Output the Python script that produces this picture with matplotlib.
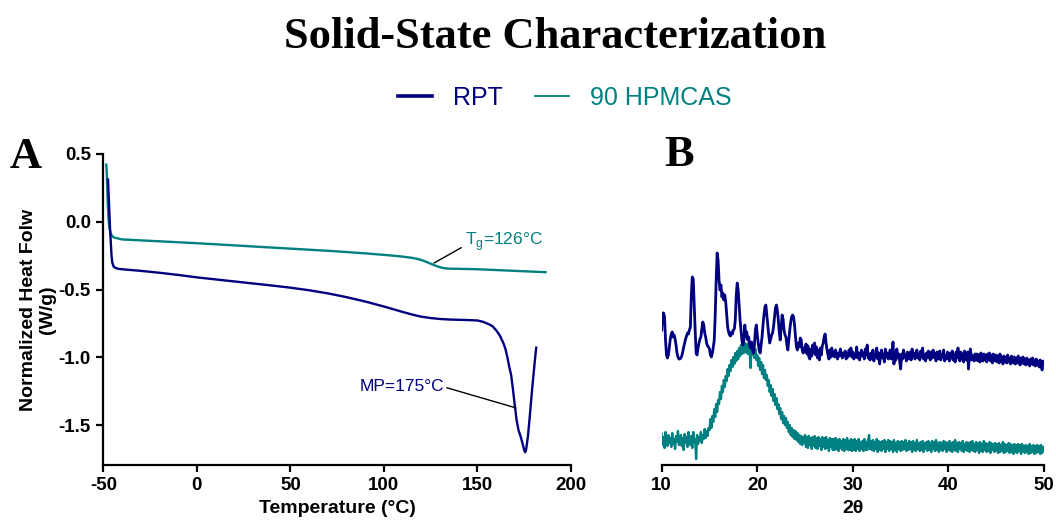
import numpy as np
import matplotlib
matplotlib.use("Agg")
import matplotlib.pyplot as plt
from matplotlib.lines import Line2D

plt.rcParams['font.family'] = ['Liberation Sans', 'DejaVu Sans']
plt.rcParams['mathtext.fontset'] = 'custom'
plt.rcParams['mathtext.rm'] = 'Liberation Sans'

NAVY = '#000080'
TEAL = '#008080'

# ---------------- DSC data (panel A) ----------------
dsc_rpt_temp = [-47.5, -47.3, -47.0, -46.7, -46.4, -46.0, -45.6, -45.2, -44.5, -43.5, -42.0, -40,
                -30, -20, -10, 0, 10, 20, 30, 40, 50, 60, 70, 80, 90, 100, 105, 110, 115, 120,
                125, 130, 135, 140, 145, 150, 153, 156, 158, 160, 162, 164, 165, 166, 167, 168,
                169, 170, 171, 172, 173, 174, 175, 175.5, 176, 177, 178, 179, 180, 181, 181.5]
dsc_rpt_flow = [0.32, 0.25, 0.15, 0.05, -0.05, -0.15, -0.25, -0.30, -0.33, -0.34, -0.347, -0.35,
                -0.362, -0.376, -0.392, -0.41, -0.425, -0.44, -0.455, -0.47, -0.486, -0.505,
                -0.528, -0.556, -0.588, -0.625, -0.645, -0.665, -0.684, -0.70, -0.71, -0.717,
                -0.721, -0.723, -0.725, -0.728, -0.738, -0.755, -0.77, -0.80, -0.84, -0.90,
                -0.94, -1.00, -1.07, -1.13, -1.24, -1.36, -1.47, -1.54, -1.58, -1.63, -1.685,
                -1.70, -1.68, -1.58, -1.43, -1.27, -1.12, -0.98, -0.92]

dsc_hpmcas_temp = [-48.5, -48.2, -47.9, -47.6, -47.2, -46.8, -46.2, -45.5, -44.5, -43.0, -41.0, -40,
                   -30, -20, -10, 0, 10, 20, 30, 40, 50, 60, 70, 80, 90, 100, 105, 110, 115, 118,
                   120, 122, 124, 126, 128, 130, 132, 135, 140, 150, 160, 170, 180, 187]
dsc_hpmcas_flow = [0.43, 0.38, 0.25, 0.12, 0.02, -0.04, -0.08, -0.10, -0.115, -0.12, -0.127, -0.13,
                   -0.137, -0.144, -0.151, -0.158, -0.166, -0.174, -0.182, -0.19, -0.198, -0.206,
                   -0.214, -0.223, -0.233, -0.244, -0.25, -0.257, -0.266, -0.274, -0.282, -0.292,
                   -0.304, -0.315, -0.326, -0.335, -0.342, -0.346, -0.347, -0.35, -0.356, -0.362,
                   -0.368, -0.372]

# ---------------- XRD data (panel B), 0.1 deg steps from 10 to 50 ----------------
two_theta = np.round(np.arange(10.0, 50.05, 0.1), 1)

xrd_rpt = [
    135, 152, 152, 148, 125, 110, 107, 110, 118, 126,   # 10
    131, 133, 128, 130, 126, 120, 112, 108, 106, 106,   # 11
    107, 109, 113, 118, 122, 126, 129, 132, 131, 135,   # 12
    138, 170, 188, 186, 160, 135, 112, 110, 117, 122,   # 13
    126, 128, 136, 143, 140, 132, 128, 122, 119, 118,   # 14
    116, 110, 108, 112, 118, 125, 150, 185, 212, 205,   # 15
    185, 175, 180, 168, 172, 165, 170, 163, 150, 138,   # 16
    133, 130, 129, 133, 131, 135, 136, 145, 170, 182,   # 17
    175, 160, 145, 135, 124, 120, 125, 140, 128, 133,   # 18
    125, 128, 120, 117, 123, 115, 112, 120, 135, 140,   # 19
    130, 122, 115, 112, 120, 128, 140, 150, 158, 160,   # 20
    150, 140, 130, 122, 126, 130, 132, 138, 148, 157,   # 21
    160, 155, 145, 133, 125, 138, 150, 146, 135, 130,   # 22
    128, 120, 115, 125, 135, 143, 148, 150, 148, 140,   # 23
    128, 118, 115, 122, 118, 127, 125, 115, 112, 117,   # 24
    114, 121, 111, 119, 108, 106, 116, 109, 120, 112,   # 25
    122, 110, 118, 107, 115, 105, 117, 110, 119, 122,   # 26
    128, 131, 122, 115, 110, 106, 115, 108, 117, 109,   # 27
    113, 108, 115, 110, 106, 112, 109, 116, 111, 107,   # 28
    112, 109, 114, 106, 111, 108, 115, 110, 117, 108,   # 29
    113, 106, 110, 108, 118, 107, 112, 105, 110, 115,   # 30
    109, 112, 106, 116, 110, 120, 107, 111, 105, 112,   # 31
    107, 115, 104, 110, 109, 117, 106, 112, 101, 110,   # 32
    115, 107, 111, 103, 116, 108, 112, 106, 109, 115,   # 33
    106, 110, 123, 101, 112, 105, 116, 108, 111, 104,   # 34
    96, 111, 106, 115, 108, 110, 104, 113, 109, 106,    # 35
    113, 105, 116, 109, 112, 106, 110, 115, 107, 111,   # 36
    105, 114, 108, 117, 106, 110, 104, 112, 107, 114,   # 37
    110, 105, 113, 107, 115, 108, 111, 104, 113, 108,   # 38
    106, 114, 105, 110, 108, 115, 104, 109, 106, 113,   # 39
    110, 104, 112, 107, 114, 105, 110, 103, 113, 107,   # 40
    117, 108, 104, 113, 106, 111, 103, 114, 107, 105,   # 41
    113, 96, 111, 116, 105, 110, 107, 104, 111, 105,    # 42
    111, 104, 110, 103, 112, 106, 104, 111, 105, 110,   # 43
    103, 111, 105, 112, 104, 110, 102, 111, 106, 104,   # 44
    110, 103, 109, 102, 111, 104, 108, 101, 109, 103,   # 45
    108, 102, 110, 103, 107, 101, 109, 103, 102, 108,   # 46
    101, 107, 102, 109, 103, 100, 107, 102, 108, 101,   # 47
    106, 100, 107, 101, 105, 99, 106, 101, 107, 100,    # 48
    105, 99, 106, 100, 104, 98, 105, 100, 95, 104,      # 49
    101,                                                # 50
]

xrd_hpmcas = [
    31, 20, 28, 17, 33, 24, 19, 30, 22, 27,             # 10
    18, 32, 21, 26, 16, 29, 23, 34, 20, 25,             # 11
    30, 19, 27, 15, 31, 22, 28, 18, 33, 24,             # 12
    20, 29, 17, 33, 23, 26, 6, 30, 21, 28,              # 13
    24, 33, 22, 30, 26, 36, 27, 34, 29, 37,             # 14
    35, 46, 37, 49, 43, 56, 48, 61, 53, 65,             # 15
    61, 73, 66, 79, 73, 85, 78, 89, 84, 96,             # 16
    89, 100, 94, 105, 98, 108, 101, 112, 104, 114,      # 17
    106, 117, 109, 120, 111, 121, 112, 122, 113, 121,   # 18
    111, 122, 113, 97, 118, 110, 120, 107, 116, 105,    # 19
    110, 99, 107, 95, 103, 91, 100, 87, 95, 85,         # 20
    90, 79, 85, 73, 80, 69, 76, 64, 71, 60,             # 21
    67, 56, 61, 51, 57, 46, 53, 42, 49, 40,             # 22
    47, 37, 43, 33, 40, 30, 37, 28, 35, 26,             # 23
    34, 25, 32, 23, 30, 21, 29, 20, 28, 22,             # 24
    30, 18, 28, 17, 29, 20, 27, 16, 28, 19,             # 25
    29, 17, 27, 16, 28, 19, 26, 15, 28, 18,             # 26
    27, 16, 28, 17, 25, 14, 27, 18, 26, 15,             # 27
    26, 15, 27, 16, 25, 14, 26, 17, 24, 15,             # 28
    26, 14, 25, 16, 27, 15, 24, 15, 26, 14,             # 29
    25, 15, 26, 14, 24, 16, 26, 14, 23, 16,             # 30
    24, 14, 26, 15, 23, 15, 25, 30, 16, 24,             # 31
    15, 25, 14, 23, 16, 26, 13, 24, 15, 23,             # 32
    14, 24, 16, 25, 13, 23, 16, 25, 14, 24,             # 33
    16, 23, 13, 25, 15, 22, 13, 24, 16, 23,             # 34
    14, 24, 15, 23, 16, 25, 14, 22, 15, 24,             # 35
    16, 23, 13, 24, 15, 22, 14, 25, 16, 22,             # 36
    14, 23, 15, 24, 13, 22, 16, 23, 14, 24,             # 37
    15, 22, 13, 24, 16, 23, 14, 25, 15, 22,             # 38
    13, 23, 15, 22, 14, 24, 16, 23, 13, 22,             # 39
    15, 24, 14, 22, 13, 23, 15, 25, 14, 22,             # 40
    13, 23, 16, 22, 14, 24, 13, 21, 15, 23,             # 41
    14, 22, 13, 23, 15, 24, 14, 21, 13, 23,             # 42
    15, 22, 12, 23, 14, 21, 13, 24, 15, 22,             # 43
    13, 21, 14, 23, 12, 22, 15, 21, 13, 22,             # 44
    14, 21, 12, 22, 13, 20, 14, 23, 12, 21,             # 45
    13, 20, 14, 22, 12, 21, 13, 20, 11, 21,             # 46
    13, 20, 12, 21, 14, 20, 11, 21, 13, 19,             # 47
    12, 20, 13, 19, 11, 21, 12, 19, 13, 20,             # 48
    11, 19, 12, 20, 13, 19, 11, 20, 12, 18,             # 49
    15,                                                 # 50
]

dsc_xticks = [-50, 0, 50, 100, 150, 200]
dsc_yticks = [-1.5, -1.0, -0.5, 0.0, 0.5]
xrd_xticks = [10, 20, 30, 40, 50]
series_names = ['RPT', '90 HPMCAS']

# ---------------- figure ----------------
W, H = 1056, 525
fig = plt.figure(figsize=(W / 100, H / 100), dpi=100)

def frac_box(x0, x1, ytop, ybot):
    return [x0 / W, 1 - ybot / H, (x1 - x0) / W, (ybot - ytop) / H]

tick_font = dict(family='Liberation Sans', weight='bold', size=13.5)

axA = fig.add_axes(frac_box(103.3, 571, 154, 465))
axA.plot(dsc_hpmcas_temp, dsc_hpmcas_flow, color=TEAL, lw=1.7, solid_capstyle='butt')
axA.plot(dsc_rpt_temp, dsc_rpt_flow, color=NAVY, lw=1.7, solid_capstyle='butt')
axA.set_xlim(-50, 200)
axA.set_ylim(-1.794, 0.5)
axA.set_xticks(dsc_xticks)
axA.set_yticks(dsc_yticks)
axA.set_xticklabels([str(t) for t in dsc_xticks], **tick_font)
axA.set_yticklabels([f"{t:.1f}" for t in dsc_yticks], **tick_font)
for s in ['top', 'right']:
    axA.spines[s].set_visible(False)
for s in ['left', 'bottom']:
    axA.spines[s].set_linewidth(1.6)
axA.tick_params(width=1.6, length=5, pad=4)
axA.set_xlabel('Temperature (°C)', fontsize=14, fontweight='bold', labelpad=4)

axA.annotate('T$_\\mathregular{g}$=126°C', xy=(126.8, -0.304), xytext=(143.5, -0.149),
             color=TEAL, fontsize=12.5, ha='left', va='center',
             arrowprops=dict(arrowstyle='-', color='black', lw=1, shrinkA=1, shrinkB=0,
                             relpos=(0, 0.35)))
axA.annotate('MP=175°C', xy=(170.6, -1.373), xytext=(132.1, -1.218),
             color=NAVY, fontsize=12.5, ha='right', va='center',
             arrowprops=dict(arrowstyle='-', color='black', lw=1, shrinkA=0, shrinkB=0,
                             relpos=(1, 0.5)))

fig.text(38 / W, 1 - 310 / H, 'Normalized Heat Folw\n(W/g)', rotation=90, ha='center',
         va='center', fontsize=14, fontweight='bold', multialignment='center', linespacing=1.2)

axB = fig.add_axes(frac_box(661.7, 1044, 154, 465))
axB.plot(two_theta, xrd_hpmcas, color=TEAL, lw=1.7)
axB.plot(two_theta, xrd_rpt, color=NAVY, lw=2.0)
axB.set_xlim(10, 50)
axB.set_ylim(0, 311)
axB.set_xticks(xrd_xticks)
axB.set_xticklabels([str(t) for t in xrd_xticks], **tick_font)
axB.set_yticks([])
for s in ['top', 'right', 'left']:
    axB.spines[s].set_visible(False)
axB.spines['bottom'].set_linewidth(1.6)
axB.tick_params(width=1.6, length=5, pad=4)
axB.set_xlabel('2θ', fontsize=14, fontweight='bold', labelpad=4)

# panel letters
fig.text(10 / W, 1 - 168 / H, 'A', fontsize=32, fontweight='bold', family='Liberation Serif',
         ha='left', va='baseline')
fig.text(664 / W, 1 - 166 / H, 'B', fontsize=32, fontweight='bold', family='Liberation Serif',
         ha='left', va='baseline')

# title
fig.text(555 / W, 1 - 48 / H, 'Solid-State Characterization', fontsize=32, fontweight='bold',
         family='Liberation Serif', ha='center', va='baseline')

# legend
handles = [Line2D([], [], color=NAVY, lw=2.6), Line2D([], [], color=TEAL, lw=1.3)]
leg = fig.legend(handles, series_names, loc='center', bbox_to_anchor=(565 / W, 1 - 98 / H),
                 ncol=2, frameon=False, fontsize=18, handlelength=1.35, handletextpad=0.85,
                 columnspacing=1.3, labelcolor=[NAVY, TEAL])

fig.savefig('out.png', dpi=100)
